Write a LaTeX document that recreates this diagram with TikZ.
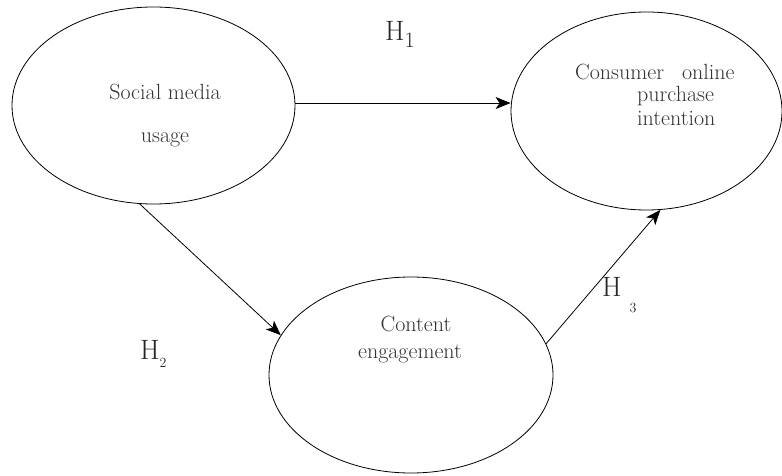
\documentclass[tikz,border=0pt]{standalone}
\usetikzlibrary{shapes.geometric,arrows.meta}
\begin{document}
\begin{tikzpicture}[x=1pt,y=-1pt,
  oval/.style={draw,ellipse,line width=0.8pt,inner sep=0pt},
  lbl/.style={inner sep=0pt,text=black!80,font=\fontsize{22}{26}\selectfont},
  hyp/.style={inner sep=0pt,anchor=base west,text=black!85,font=\fontsize{28}{30}\selectfont},
  arr/.style={line width=0.8pt,-{Stealth[length=15pt,width=12pt,inset=4pt]}}]
\useasboundingbox (0,0) rectangle (782,476);
% ellipses
\node[oval,minimum width=283pt,minimum height=197pt] (L) at (153.5,105.5) {};
\node[oval,minimum width=271pt,minimum height=198pt] (R) at (646.5,111) {};
\node[oval,minimum width=284pt,minimum height=196pt] (B) at (411,375) {};
% texts
\node[lbl,anchor=base] (l1) at (165,100) {Social media};
\node[lbl,anchor=base] (l2) at (165,143) {usage};
\node[lbl,anchor=base west] (r1) at (575,80) {Consumer\hspace{18pt}online};
\node[lbl,anchor=base west] (r2) at (637,102) {purchase};
\node[lbl,anchor=base west] (r3) at (637,126) {intention};
\node[lbl,anchor=base] (b1) at (416,331) {Content};
\node[lbl,anchor=base] (b2) at (410,358) {engagement};
% hypothesis labels
\node[hyp] (h1) at (385,41) {H\raisebox{-7pt}{\fontsize{22}{24}\selectfont 1}};
\node[hyp] (h2) at (140,359) {H\raisebox{-8pt}{\fontsize{14}{16}\selectfont 2}};
\node[hyp] (h3) at (602,296) {H\hspace{8pt}\raisebox{-16pt}{\fontsize{14}{16}\selectfont 3}};
% connectors
\draw[arr] (L.1) -- (L.1 -| R.west);
\draw[arr] (L.-98) -- (B.163);
\draw[arr] (B.13) -- (R.-82);
\end{tikzpicture}
\end{document}
